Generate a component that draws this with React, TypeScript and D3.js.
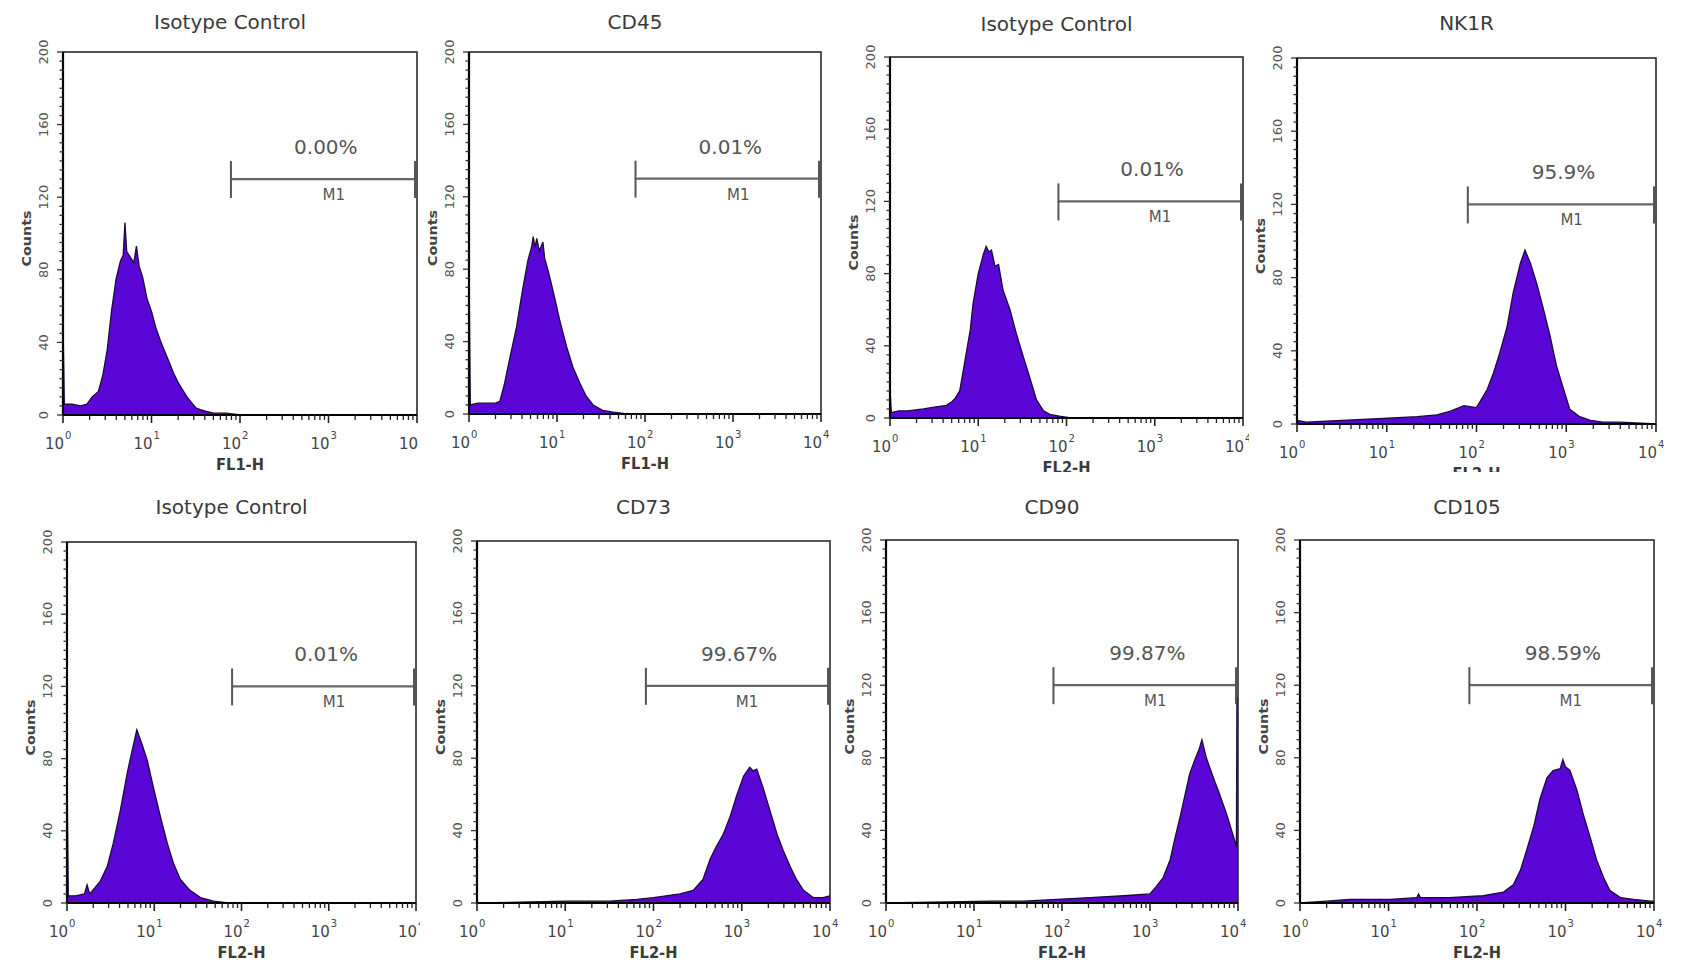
import React from 'react';
import * as d3 from 'd3';

// ---------- DATA ----------
const titles = ['Isotype Control', 'CD45', 'Isotype Control', 'NK1R', 'Isotype Control', 'CD73', 'CD90', 'CD105'];
const xAxisLabels = ['FL1-H', 'FL1-H', 'FL2-H', 'FL2-H', 'FL2-H', 'FL2-H', 'FL2-H', 'FL2-H'];
const percentLabels = ['0.00%', '0.01%', '0.01%', '95.9%', '0.01%', '99.67%', '99.87%', '98.59%'];
const markerLevels = [130, 130, 120, 120, 120, 120, 120, 120];
const markerStart = [79, 78, 81, 80, 78, 82, 80, 82];
const yTicks = [0, 40, 80, 120, 160, 200];
const xDecades = [0, 1, 2, 3, 4];

// histograms: [log10(fluorescence), counts]
const histIsoFL1: [number, number][] = [
  [0, 52], [0.015, 6], [0.1, 6], [0.2, 5], [0.27, 6], [0.33, 10], [0.4, 13], [0.45, 22], [0.5, 36],
  [0.55, 58], [0.6, 75], [0.65, 85], [0.68, 88], [0.7, 106], [0.72, 90], [0.76, 87], [0.8, 84],
  [0.83, 93], [0.86, 82], [0.9, 76], [0.95, 64], [1.0, 57], [1.05, 48], [1.1, 41], [1.15, 35],
  [1.2, 29], [1.25, 23], [1.3, 18], [1.35, 14], [1.4, 10], [1.45, 7], [1.5, 4], [1.55, 3],
  [1.62, 2], [1.7, 1], [1.85, 1], [2.0, 0], [4, 0],
];
const histCD45: [number, number][] = [
  [0, 82], [0.015, 5], [0.1, 6], [0.2, 6], [0.3, 6], [0.35, 7], [0.4, 16], [0.46, 30], [0.54, 48],
  [0.61, 69], [0.67, 85], [0.71, 92], [0.73, 98], [0.75, 92], [0.77, 97], [0.8, 90], [0.84, 95],
  [0.86, 86], [0.9, 79], [0.96, 67], [1.03, 52], [1.11, 37], [1.18, 26], [1.26, 17], [1.33, 10],
  [1.41, 5], [1.52, 2], [1.64, 1], [1.8, 0], [4, 0],
];
const histIsoFL2Top: [number, number][] = [
  [0, 16], [0.015, 3], [0.1, 4], [0.2, 4], [0.38, 5], [0.5, 6], [0.64, 7], [0.7, 9], [0.74, 11],
  [0.79, 15], [0.85, 32], [0.91, 49], [0.94, 63], [1.0, 80], [1.06, 91], [1.09, 95], [1.12, 92],
  [1.15, 93], [1.19, 84], [1.23, 85], [1.28, 71], [1.36, 60], [1.43, 47], [1.51, 34], [1.58, 23],
  [1.66, 10], [1.74, 4], [1.81, 2], [1.92, 1], [2.05, 0], [4, 0],
];
const histNK1R: [number, number][] = [
  [0, 2], [0.1, 1], [0.5, 2], [0.96, 3], [1.34, 4], [1.56, 5], [1.71, 7], [1.86, 10], [2.0, 9],
  [2.12, 19], [2.19, 28], [2.26, 39], [2.34, 53], [2.41, 72], [2.49, 88], [2.54, 95], [2.6, 88],
  [2.67, 77], [2.75, 62], [2.82, 48], [2.89, 32], [2.97, 19], [3.04, 8], [3.15, 4], [3.27, 2],
  [3.41, 1], [3.6, 1], [4, 0],
];
const histIsoFL2Bottom: [number, number][] = [
  [0, 74], [0.015, 4], [0.1, 4], [0.2, 5], [0.23, 10], [0.26, 5], [0.38, 12], [0.46, 20], [0.53, 33],
  [0.61, 51], [0.69, 72], [0.74, 83], [0.8, 96], [0.86, 88], [0.92, 79], [0.99, 64], [1.07, 48],
  [1.15, 33], [1.22, 22], [1.3, 13], [1.41, 7], [1.53, 3], [1.68, 1], [1.85, 0], [4, 0],
];
const histCD73: [number, number][] = [
  [0, 0], [1.0, 1], [1.24, 1], [1.5, 1], [1.81, 2], [2.0, 3], [2.3, 5], [2.45, 7], [2.56, 13],
  [2.64, 24], [2.71, 31], [2.79, 38], [2.87, 48], [2.94, 59], [3.02, 70], [3.09, 75], [3.13, 73],
  [3.17, 74], [3.24, 64], [3.32, 51], [3.4, 38], [3.47, 29], [3.55, 20], [3.62, 13], [3.7, 7],
  [3.81, 3], [3.92, 3], [4.0, 4],
];
const histCD90: [number, number][] = [
  [0, 0], [1.2, 1], [1.56, 1], [1.94, 2], [2.32, 3], [2.7, 4], [3.0, 5], [3.07, 9], [3.15, 14],
  [3.23, 24], [3.28, 35], [3.34, 47], [3.4, 60], [3.45, 71], [3.51, 79], [3.56, 85], [3.59, 90],
  [3.62, 84], [3.64, 80], [3.72, 69], [3.79, 60], [3.87, 49], [3.94, 38], [3.982, 31], [3.988, 113],
  [4.0, 113],
];
const histCD105: [number, number][] = [
  [0, 0], [0.3, 1], [0.56, 2], [1.02, 2], [1.32, 3], [1.34, 5], [1.36, 3], [1.69, 3], [2.07, 4],
  [2.3, 6], [2.41, 10], [2.49, 18], [2.56, 29], [2.64, 42], [2.71, 57], [2.79, 69], [2.86, 73],
  [2.94, 74], [2.97, 79], [3.0, 75], [3.05, 73], [3.13, 62], [3.2, 49], [3.28, 36], [3.35, 24],
  [3.43, 14], [3.5, 7], [3.62, 3], [3.77, 2], [3.96, 1], [4.0, 1],
];
const histograms = [histIsoFL1, histCD45, histIsoFL2Top, histNK1R, histIsoFL2Bottom, histCD73, histCD90, histCD105];

// ---------- LAYOUT ----------
const LAYOUT = [
  { x0: 63, x1: 417, y0: 52, y1: 415, clip: [0, 0, 418, 472], titleY: 29 },
  { x0: 469, x1: 821, y0: 52, y1: 414, clip: [420, 0, 840, 472], titleY: 29 },
  { x0: 890, x1: 1243, y0: 57, y1: 418, clip: [840, 0, 1249, 472], titleY: 31 },
  { x0: 1297, x1: 1656, y0: 58, y1: 424, clip: [1249, 0, 1681, 472], titleY: 30 },
  { x0: 67, x1: 416, y0: 542, y1: 903, clip: [0, 478, 420, 965], titleY: 514 },
  { x0: 477, x1: 830, y0: 541, y1: 903, clip: [420, 478, 840, 965], titleY: 514 },
  { x0: 886, x1: 1238, y0: 540, y1: 903, clip: [840, 478, 1250, 965], titleY: 514 },
  { x0: 1300, x1: 1654, y0: 540, y1: 903, clip: [1250, 478, 1681, 965], titleY: 514 },
];

const FILL = '#5a06d6';
const FONT = '"DejaVu Sans", Verdana, sans-serif';

function Panel({ i }: { i: number }) {
  const L = LAYOUT[i];
  const x = d3.scaleLog().domain([1, 1e4]).range([L.x0, L.x1]);
  const y = d3.scaleLinear().domain([0, 200]).range([L.y1, L.y0]);
  const data = histograms[i];
  const area = d3.area<[number, number]>()
    .x(d => x(Math.pow(10, d[0])))
    .y0(y(0))
    .y1(d => y(d[1]));
  const line = d3.line<[number, number]>()
    .x(d => x(Math.pow(10, d[0])))
    .y(d => y(d[1]));
  const xt = x.ticks();
  const yMinor = d3.range(0, 201, 5);
  const [cx0, cy0, cx1, cy1] = L.clip;
  const mY = y(markerLevels[i]);
  const mX0 = x(markerStart[i]);
  const mX1 = L.x1 - 2;
  const cx = (L.x0 + L.x1) / 2;
  return (
    <g clipPath={`url(#clip${i})`}>
      <defs>
        <clipPath id={`clip${i}`}>
          <rect x={cx0} y={cy0} width={cx1 - cx0} height={cy1 - cy0} />
        </clipPath>
      </defs>
      <text x={cx - 10} y={L.titleY} textAnchor="middle" fontFamily={FONT} fontSize={20} fill="#3a3a3a">{titles[i]}</text>
      {/* histogram */}
      <path d={area(data) || ''} fill={FILL} />
      <path d={line(data) || ''} fill="none" stroke="#1b0b3c" strokeWidth={1.3} />
      {/* frame */}
      <rect x={L.x0} y={L.y0} width={L.x1 - L.x0} height={L.y1 - L.y0} fill="none" stroke="#2a2a2a" strokeWidth={1.6} />
      <line x1={L.x0} x2={L.x0} y1={L.y0} y2={L.y1} stroke="#000" strokeWidth={2.2} />
      <line x1={L.x0} x2={L.x1} y1={L.y1} y2={L.y1} stroke="#000" strokeWidth={2.2} />
      {/* y ticks */}
      {yMinor.map(v => (
        <line key={'ym' + v} x1={L.x0} x2={L.x0 - (v % 40 === 0 ? 6 : 3.5)} y1={y(v)} y2={y(v)} stroke="#333" strokeWidth={1.3} />
      ))}
      {yTicks.map(v => (
        <text key={'yl' + v} transform={`translate(${L.x0 - 15},${y(v)}) rotate(-90)`} textAnchor="middle"
          fontFamily={FONT} fontSize={13} fill="#555">{v}</text>
      ))}
      <text transform={`translate(${L.x0 - 32},${(L.y0 + L.y1) / 2 + 5}) rotate(-90)`} textAnchor="middle"
        fontFamily={FONT} fontSize={13} fontWeight="bold" fill="#444" textLength={56} lengthAdjust="spacingAndGlyphs">Counts</text>
      {/* x ticks */}
      {xt.map((v, k) => {
        const major = Math.abs(Math.log10(v) - Math.round(Math.log10(v))) < 1e-9;
        return <line key={'xt' + k} x1={x(v)} x2={x(v)} y1={L.y1} y2={L.y1 + (major ? 8 : 5)} stroke="#222" strokeWidth={major ? 1.6 : 1.3} />;
      })}
      {xDecades.map(e => {
        const tx = x(Math.pow(10, e));
        return (
          <g key={'xl' + e} fontFamily={FONT} fill="#444">
            <text x={tx + 1} y={L.y1 + 34} textAnchor="end" fontSize={15}>10</text>
            <text x={tx + 2} y={L.y1 + 24} textAnchor="start" fontSize={10}>{e}</text>
          </g>
        );
      })}
      <text x={cx} y={L.y1 + 55} textAnchor="middle" fontFamily={FONT} fontSize={15} fontWeight="bold" fill="#3a3a3a"
        textLength={48} lengthAdjust="spacingAndGlyphs">{xAxisLabels[i]}</text>
      {/* M1 marker */}
      <line x1={mX0} x2={mX1} y1={mY} y2={mY} stroke="#666" strokeWidth={2.2} />
      <line x1={mX0} x2={mX0} y1={mY - 18} y2={mY + 19} stroke="#555" strokeWidth={2} />
      <line x1={mX1} x2={mX1} y1={mY - 18} y2={mY + 19} stroke="#555" strokeWidth={2} />
      <text x={x(Math.pow(10, 2.97))} y={mY - 25} textAnchor="middle" fontFamily={FONT} fontSize={20} fill="#555">{percentLabels[i]}</text>
      <text x={x(Math.pow(10, 3.06))} y={mY + 21} textAnchor="middle" fontFamily={FONT} fontSize={15} fill="#555">M1</text>
    </g>
  );
}

export default function App() {
  return (
    <svg width={1681} height={965} style={{ position: 'absolute', left: 0, top: 0, background: '#fff' }}>
      <rect x={0} y={0} width={1681} height={965} fill="#fff" />
      {LAYOUT.map((_, i) => <Panel key={i} i={i} />)}
    </svg>
  );
}
